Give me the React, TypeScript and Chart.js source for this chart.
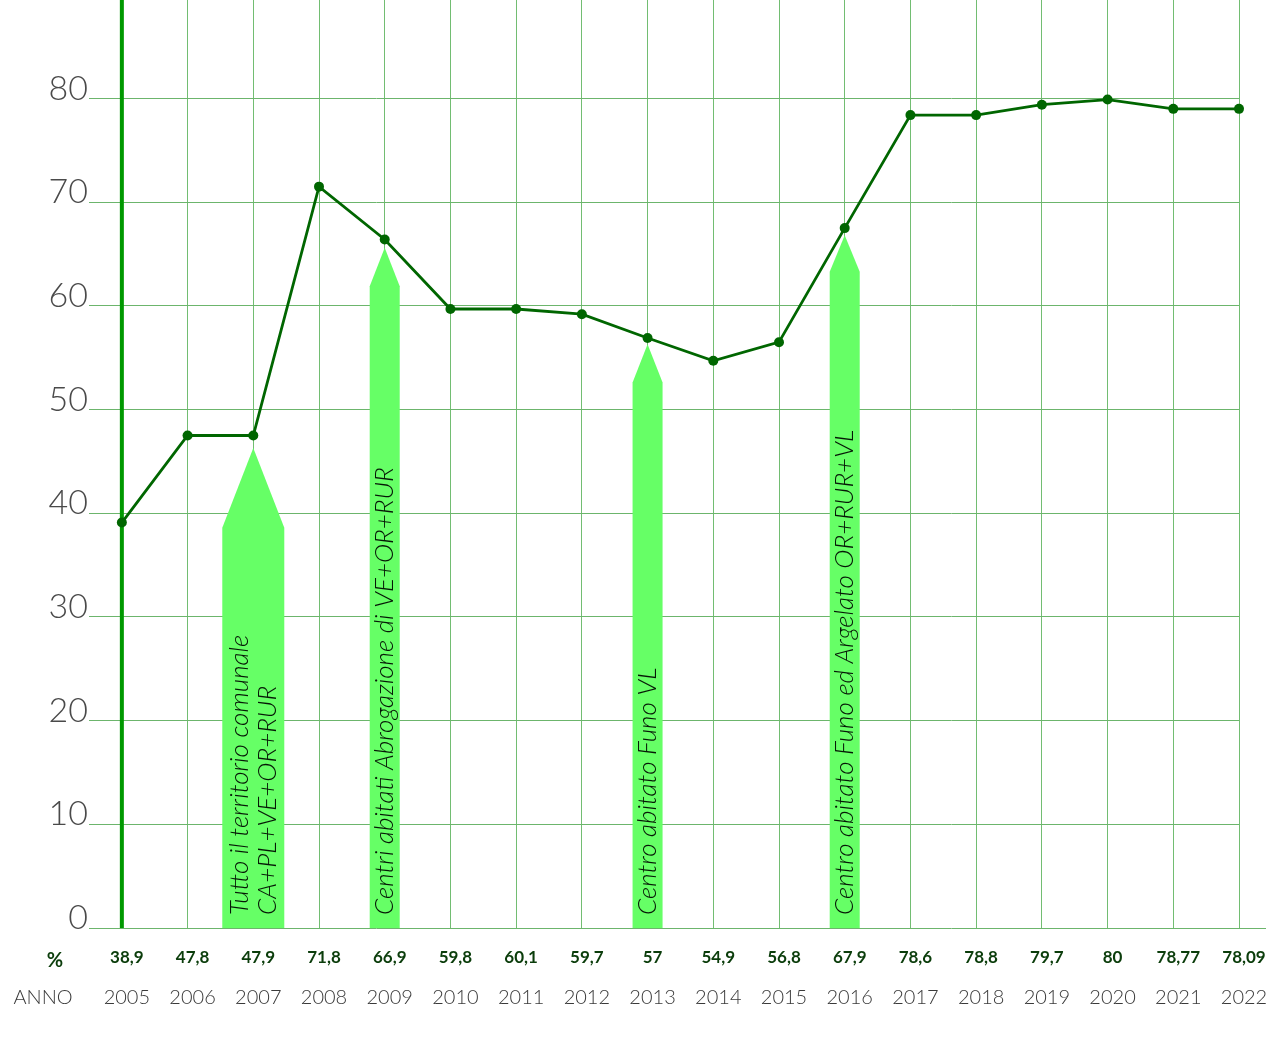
import React, { useEffect, useRef } from "react";
import { Chart, registerables } from "chart.js";

Chart.register(...registerables);

const years = [2005, 2006, 2007, 2008, 2009, 2010, 2011, 2012, 2013, 2014, 2015, 2016, 2017, 2018, 2019, 2020, 2021, 2022];
const pointValues = [39.1, 47.5, 47.5, 71.5, 66.4, 59.7, 59.7, 59.2, 56.9, 54.7, 56.5, 67.5, 78.4, 78.4, 79.4, 79.9, 79.0, 79.0];
const valueLabels = ["38,9", "47,8", "47,9", "71,8", "66,9", "59,8", "60,1", "59,7", "57", "54,9", "56,8", "67,9", "78,6", "78,8", "79,7", "80", "78,77", "78,09"];
const yTicks = [0, 10, 20, 30, 40, 50, 60, 70, 80];

const arrowYears = [2007, 2009, 2013, 2016];
const arrowTips = [46.3, 65.6, 56.3, 66.8];
const arrowBases = [38.6, 61.9, 52.6, 63.3];
const arrowTexts = [
  ["Tutto il territorio comunale", "CA+PL+VE+OR+RUR"],
  ["Centri abitati Abrogazione di VE+OR+RUR"],
  ["Centro abitato Funo VL"],
  ["Centro abitato Funo ed Argelato OR+RUR+VL"],
];

const FONT = "Lato, 'Source Sans Pro', 'Open Sans', sans-serif";

const overlayPlugin = {
  id: "overlay",
  beforeDatasetsDraw(chart: any) {
    const { ctx, chartArea, scales } = chart;
    const xs = scales.x;
    const ys = scales.y;
    ctx.save();
    // extended baseline
    ctx.strokeStyle = "#6cb56c";
    ctx.lineWidth = 1;
    ctx.beginPath();
    ctx.moveTo(chartArea.right, Math.round(ys.getPixelForValue(0)) + 0.5);
    ctx.lineTo(1266, Math.round(ys.getPixelForValue(0)) + 0.5);
    ctx.stroke();

    // arrows
    arrowYears.forEach((yr, i) => {
      const cx = xs.getPixelForValue(yr);
      const w = i === 0 ? 62 : 30;
      const tip = ys.getPixelForValue(arrowTips[i]);
      const base = ys.getPixelForValue(arrowBases[i]);
      const bottom = ys.getPixelForValue(0);
      ctx.fillStyle = "#66ff66";
      ctx.beginPath();
      ctx.moveTo(cx, tip);
      ctx.lineTo(cx + w / 2, base);
      ctx.lineTo(cx + w / 2, bottom);
      ctx.lineTo(cx - w / 2, bottom);
      ctx.lineTo(cx - w / 2, base);
      ctx.closePath();
      ctx.fill();

      const lines = arrowTexts[i];
      ctx.save();
      ctx.fillStyle = "#061806";
      ctx.font = `italic 300 26px ${FONT}`;
      ctx.textAlign = "left";
      ctx.textBaseline = "middle";
      const lh = 28;
      lines.forEach((t, j) => {
        const lx = cx - ((lines.length - 1) * lh) / 2 + j * lh;
        ctx.save();
        ctx.translate(lx, bottom - 13);
        ctx.rotate(-Math.PI / 2);
        ctx.fillText(t, 0, 0);
        ctx.restore();
      });
      ctx.restore();
    });

    // y axis thick line
    const ax = xs.getPixelForValue(years[0]);
    ctx.strokeStyle = "#009900";
    ctx.lineWidth = 4;
    ctx.beginPath();
    ctx.moveTo(ax, 0);
    ctx.lineTo(ax, ys.getPixelForValue(0));
    ctx.stroke();
    ctx.restore();
  },
  afterDraw(chart: any) {
    const { ctx, scales } = chart;
    const xs = scales.x;
    const ys = scales.y;
    ctx.save();
    // y tick labels
    ctx.fillStyle = "#4a4a4a";
    ctx.font = `300 34px ${FONT}`;
    ctx.textAlign = "right";
    ctx.textBaseline = "alphabetic";
    yTicks.forEach((v) => {
      ctx.fillText(String(v), 88, ys.getPixelForValue(v) + 1);
    });
    // value row
    ctx.textAlign = "center";
    ctx.textBaseline = "middle";
    ctx.fillStyle = "#0b3d0b";
    ctx.font = `bold 20px ${FONT}`;
    ctx.fillText("%", 55, 961);
    ctx.font = `bold 17px ${FONT}`;
    years.forEach((yr, i) => {
      ctx.fillText(valueLabels[i], xs.getPixelForValue(yr) + 5, 958);
    });
    // year row
    ctx.fillStyle = "#3a3a3a";
    ctx.font = `300 20px ${FONT}`;
    ctx.fillText("ANNO", 43, 998);
    years.forEach((yr) => {
      ctx.fillText(String(yr), xs.getPixelForValue(yr) + 5, 998);
    });
    ctx.restore();
  },
};

export default function App() {
  const ref = useRef<HTMLCanvasElement>(null);
  useEffect(() => {
    if (!ref.current) return;
    const chart = new Chart(ref.current, {
      type: "line",
      data: {
        datasets: [
          {
            data: years.map((y, i) => ({ x: y, y: pointValues[i] })),
            borderColor: "#006600",
            backgroundColor: "#006600",
            borderWidth: 2.8,
            pointRadius: 5,
            pointBackgroundColor: "#006600",
            pointBorderWidth: 0,
            tension: 0,
            clip: false,
          },
        ],
      },
      options: {
        animation: false,
        responsive: false,
        devicePixelRatio: 1,
        layout: { autoPadding: false, padding: { left: 89, right: 42, top: 0, bottom: 110 } },
        plugins: { legend: { display: false }, tooltip: { enabled: false } },
        scales: {
          x: {
            type: "linear",
            bounds: "data",
            min: 2004.5,
            max: 2022,
            afterBuildTicks: (s: any) => {
              s.ticks = years.map((v) => ({ value: v }));
              s.min = 2004.5;
              s.max = 2022;
            },
            ticks: { display: false },
            border: { display: false },
            grid: { color: "#72bd72", lineWidth: 1, drawTicks: false },
          },
          y: {
            type: "linear",
            bounds: "data",
            min: 0,
            max: 89.5,
            afterBuildTicks: (s: any) => {
              s.ticks = yTicks.map((v) => ({ value: v }));
              s.min = 0;
              s.max = 89.5;
            },
            ticks: { display: false },
            border: { display: false },
            grid: { color: "#6cb56c", lineWidth: 1, drawTicks: false },
          },
        },
      },
      plugins: [overlayPlugin],
    });
    return () => chart.destroy();
  }, []);
  return (
    <div style={{ position: "fixed", left: 0, top: 0, width: 1281, height: 1038, background: "#fff" }}>
      <canvas ref={ref} width={1281} height={1038} style={{ display: "block" }} />
    </div>
  );
}
